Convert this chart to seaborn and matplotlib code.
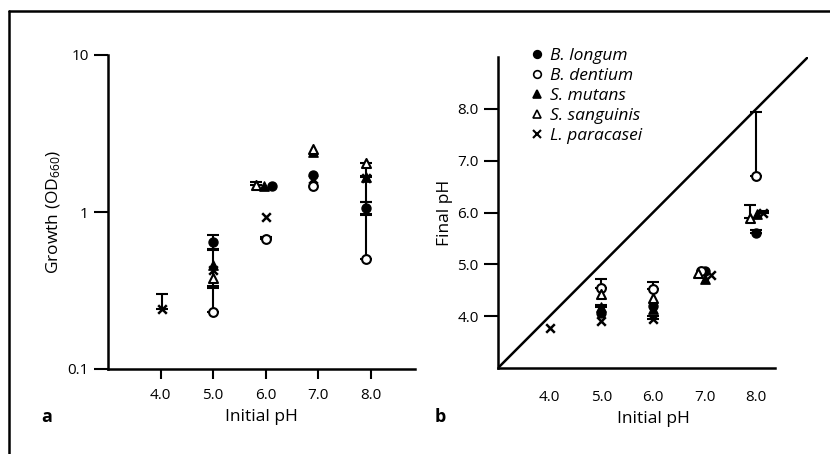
import matplotlib
matplotlib.use("Agg")
import matplotlib.pyplot as plt
from matplotlib.lines import Line2D
import seaborn as sns
import numpy as np
import pandas as pd

sns.set_theme(style="white")
plt.rcParams['font.family'] = ['Open Sans', 'DejaVu Sans']
plt.rcParams['font.weight'] = 'medium'
plt.rcParams['axes.labelweight'] = 'medium'
plt.rcParams['mathtext.default'] = 'regular'
plt.rcParams['text.color'] = 'black'
plt.rcParams['axes.labelcolor'] = 'black'
plt.rcParams['xtick.color'] = 'black'
plt.rcParams['ytick.color'] = 'black'

species = ["B. longum", "B. dentium", "S. mutans", "S. sanguinis", "L. paracasei"]

# ---- Panel a: growth (OD660) ----
a_longum_x = [5.0, 6.12, 6.9, 7.9]
a_longum_y = [0.645, 1.46, 1.72, 1.06]
a_longum_lo = [0.07, 0.0, 0.0, 0.10]
a_longum_hi = [0.07, 0.0, 0.0, 0.10]

a_dentium_x = [5.0, 6.0, 6.9, 7.9]
a_dentium_y = [0.23, 0.67, 1.47, 0.50]
a_dentium_lo = [0.0, 0.0, 0.0, 0.0]
a_dentium_hi = [0.10, 0.02, 0.0, 0.47]

a_mutans_x = [5.0, 5.97, 6.9, 7.9]
a_mutans_y = [0.46, 1.46, 2.42, 1.68]
a_mutans_lo = [0.12, 0.0, 0.0, 0.52]
a_mutans_hi = [0.12, 0.0, 0.0, 0.0]

a_sanguinis_x = [5.0, 5.82, 6.9, 7.9]
a_sanguinis_y = [0.38, 1.48, 2.52, 2.05]
a_sanguinis_lo = [0.0, 0.0, 0.0, 0.35]
a_sanguinis_hi = [0.0, 0.07, 0.0, 0.0]

a_paracasei_x = [4.02, 5.0, 6.0, 6.9, 7.9]
a_paracasei_y = [0.24, 0.43, 0.93, 1.62, 1.65]
a_paracasei_lo = [0.0, 0.0, 0.0, 0.0, 0.0]
a_paracasei_hi = [0.06, 0.0, 0.0, 0.0, 0.0]

# ---- Panel b: final pH ----
b_longum_x = [5.0, 6.0, 7.0, 8.0]
b_longum_y = [4.07, 4.20, 4.87, 5.60]
b_longum_lo = [0.0, 0.0, 0.0, 0.0]
b_longum_hi = [0.0, 0.0, 0.0, 0.06]

b_dentium_x = [5.0, 6.0, 6.93, 8.0]
b_dentium_y = [4.55, 4.52, 4.88, 6.71]
b_dentium_lo = [0.0, 0.0, 0.0, 0.0]
b_dentium_hi = [0.16, 0.14, 0.0, 1.22]

b_mutans_x = [5.0, 6.0, 7.0, 8.02]
b_mutans_y = [4.17, 4.14, 4.71, 5.97]
b_mutans_lo = [0.0, 0.0, 0.0, 0.0]
b_mutans_hi = [0.05, 0.0, 0.0, 0.0]

b_sanguinis_x = [5.0, 6.0, 6.87, 7.87]
b_sanguinis_y = [4.42, 4.36, 4.83, 5.90]
b_sanguinis_lo = [0.0, 0.0, 0.0, 0.0]
b_sanguinis_hi = [0.0, 0.0, 0.0, 0.25]

b_paracasei_x = [4.0, 5.0, 6.0, 7.13, 8.12]
b_paracasei_y = [3.78, 3.91, 3.94, 4.79, 5.99]
b_paracasei_lo = [0.0, 0.0, 0.0, 0.0, 0.0]
b_paracasei_hi = [0.0, 0.0, 0.06, 0.0, 0.04]

x_ticks = [4.0, 5.0, 6.0, 7.0, 8.0]
x_ticklabels = ["4.0", "5.0", "6.0", "7.0", "8.0"]
a_yticks = [0.1, 1, 10]
a_yticklabels = ["0.1", "1", "10"]
b_yticks = [4.0, 5.0, 6.0, 7.0, 8.0]
b_yticklabels = ["4.0", "5.0", "6.0", "7.0", "8.0"]
diag = [3.0, 9.0]


def build(prefix):
    g = globals()
    rows = []
    for sp, key in zip(species, ["longum", "dentium", "mutans", "sanguinis", "paracasei"]):
        xs = g[f"{prefix}_{key}_x"]; ys = g[f"{prefix}_{key}_y"]
        los = g[f"{prefix}_{key}_lo"]; his = g[f"{prefix}_{key}_hi"]
        for x, y, lo, hi in zip(xs, ys, los, his):
            rows.append(dict(species=sp, x=x, y=y, lo=lo, hi=hi))
    return pd.DataFrame(rows)


df_a = build("a")
df_b = build("b")

styles = {
    "B. longum": dict(marker="o", facecolor="black", edgecolor="black", s=42, linewidth=1.0),
    "B. dentium": dict(marker="o", facecolor="white", edgecolor="black", s=40, linewidth=1.5),
    "S. mutans": dict(marker="^", facecolor="black", edgecolor="black", s=45, linewidth=1.0),
    "S. sanguinis": dict(marker="^", facecolor="white", edgecolor="black", s=42, linewidth=1.5),
    "L. paracasei": dict(marker="x", color="black", s=38, linewidth=1.8),
}

W, H = 830, 454
fig = plt.figure(figsize=(8.3, 4.54), dpi=100)


def px_axes(x0, x1, ytop, ybot):
    return fig.add_axes([x0 / W, 1 - ybot / H, (x1 - x0) / W, (ybot - ytop) / H])


def draw(ax, df):
    for sp in species:
        d = df[df.species == sp]
        m = (d.lo > 0) | (d.hi > 0)
        if m.any():
            dd = d[m]
            ax.errorbar(dd.x, dd.y, yerr=[dd.lo, dd.hi], fmt="none", ecolor="black",
                        elinewidth=1.5, capsize=4.5, capthick=1.5, zorder=2)
    for sp in species:
        d = df[df.species == sp]
        sns.scatterplot(data=d, x="x", y="y", ax=ax, legend=False, zorder=3, **styles[sp])


def style_axes(ax):
    ax.set_facecolor("white")
    for s in ["top", "right"]:
        ax.spines[s].set_visible(False)
    for s in ["left", "bottom"]:
        ax.spines[s].set_color("black")
        ax.spines[s].set_linewidth(1.8)
    ax.set_xticks(x_ticks)
    ax.set_xticklabels(x_ticklabels, fontsize=11)
    ax.minorticks_off()


# Panel a
ax1 = px_axes(108, 415, 55, 369)
draw(ax1, df_a)
ax1.set_yscale("log")
ax1.set_xlim(3.0, 8.84)
ax1.set_ylim(0.1, 10)
style_axes(ax1)
ax1.set_yticks(a_yticks)
ax1.set_yticklabels(a_yticklabels, fontsize=11)
ax1.minorticks_off()
ax1.tick_params(axis="x", bottom=True, direction="out", length=7, width=1.5, pad=7)
ax1.tick_params(axis="y", left=True, direction="out", length=10, width=1.5, pad=4)
ax1.set_xlabel("Initial pH", fontsize=12.5, labelpad=4)
ax1.set_ylabel("Growth (OD$_{660}$)", fontsize=12.5, labelpad=3)

# Panel b
ax2 = px_axes(498, 808, 57, 368)
sns.lineplot(x=diag, y=diag, ax=ax2, color="black", linewidth=1.8, zorder=1)
draw(ax2, df_b)
ax2.set_xlim(3.0, 9.0)
ax2.set_ylim(3.0, 9.0)
style_axes(ax2)
ax2.spines["bottom"].set_bounds(3.0, 8.37)
ax2.set_yticks(b_yticks)
ax2.set_yticklabels(b_yticklabels, fontsize=11)
ax2.tick_params(axis="x", bottom=True, direction="out", length=0, pad=16)
ax2.tick_params(axis="y", left=True, direction="out", length=10, width=1.5, pad=4)
ax2.set_xlabel("Initial pH", fontsize=12.5, labelpad=4)
ax2.set_ylabel("Final pH", fontsize=12.5, labelpad=3)

handles = []
for sp in species:
    st = styles[sp]
    if st["marker"] == "x":
        h = Line2D([], [], linestyle="none", marker="x", color="black", markersize=5.5, markeredgewidth=1.5)
    else:
        h = Line2D([], [], linestyle="none", marker=st["marker"], markerfacecolor=st["facecolor"],
                   markeredgecolor="black", markersize=5.5, markeredgewidth=1.2)
    handles.append(h)
leg = ax2.legend(handles, species, loc="upper left", bbox_to_anchor=(530 / W, 1 - 48 / H),
                 bbox_transform=fig.transFigure, frameon=False, handlelength=0.8,
                 handletextpad=0.35, borderpad=0, borderaxespad=0, labelspacing=0.22,
                 prop=dict(family="Open Sans", style="italic", size=12.5, weight="medium"))

# Panel letters
fig.text(47 / W, 1 - 417 / H, "a", fontsize=13, fontweight="bold", va="center", ha="center")
fig.text(440 / W, 1 - 417 / H, "b", fontsize=13, fontweight="bold", va="center", ha="center")

# Frame lines (top and left)
fig.add_artist(Line2D([9 / W, 1.0], [1 - 11 / H, 1 - 11 / H], transform=fig.transFigure, color="black", linewidth=1.8))
fig.add_artist(Line2D([9 / W, 9 / W], [0.0, 1 - 11 / H], transform=fig.transFigure, color="black", linewidth=1.8))

fig.savefig("out.png", dpi=100, facecolor="white")
